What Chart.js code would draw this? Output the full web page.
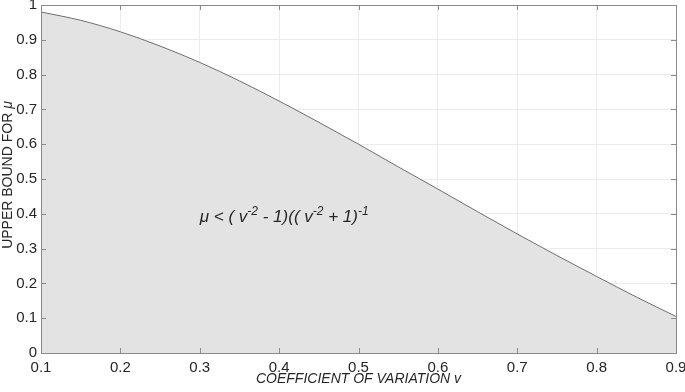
<!DOCTYPE html>
<html lang="en">
<head>
<meta charset="UTF-8">
<title>Upper bound for mu</title>
<script src="https://cdn.jsdelivr.net/npm/chart.js"></script>
<style>
  body { margin: 0; background: #fff; }
</style>
</head>
<body>
<canvas id="myChart" width="685" height="392"></canvas>
<script>
// values
const cvValues = [0.1, 0.15, 0.2, 0.25, 0.3, 0.35, 0.4, 0.45, 0.5, 0.55, 0.6, 0.65, 0.7, 0.75, 0.8, 0.85, 0.9];
const upperBound = [0.980, 0.956, 0.923, 0.882, 0.835, 0.782, 0.724, 0.663, 0.600, 0.535, 0.471, 0.406, 0.342, 0.280, 0.220, 0.161, 0.105];
const xTicks = [0.1, 0.2, 0.3, 0.4, 0.5, 0.6, 0.7, 0.8, 0.9];
const yTicks = [0, 0.1, 0.2, 0.3, 0.4, 0.5, 0.6, 0.7, 0.8, 0.9, 1];

const fontFamily = '"Liberation Sans", Arial, sans-serif';
const textColor = '#262626';

function fmt(v) { return String(Math.round(v * 10) / 10); }

// draws a run of [text, isSuperscript] pieces starting at x
function drawRich(ctx, parts, x, y, size, style) {
    parts.forEach(([t, sup]) => {
        ctx.font = style + (sup ? Math.round(size * 0.7) : size) + 'px ' + fontFamily;
        ctx.fillText(t, x, sup ? y - size * 0.45 : y);
        x += ctx.measureText(t).width;
    });
    return x;
}

// box, inward tick marks, axis titles and the formula label
const boxPlugin = {
    id: 'box',
    afterDatasetsDraw(chart) {
        const ctx = chart.ctx;
        const a = chart.chartArea;
        const xs = chart.scales.x, ys = chart.scales.y;
        const len = 5;
        ctx.save();
        ctx.strokeStyle = '#8a8a8a';
        ctx.lineWidth = 1;
        ctx.beginPath();
        xTicks.forEach(v => {
            const px = Math.round(xs.getPixelForValue(v)) + 0.5;
            ctx.moveTo(px, a.bottom); ctx.lineTo(px, a.bottom - len);
            ctx.moveTo(px, a.top); ctx.lineTo(px, a.top + len);
        });
        yTicks.forEach(v => {
            const py = Math.round(ys.getPixelForValue(v)) + 0.5;
            ctx.moveTo(a.left, py); ctx.lineTo(a.left + len, py);
            ctx.moveTo(a.right, py); ctx.lineTo(a.right - len, py);
        });
        ctx.stroke();
        ctx.strokeRect(Math.round(a.left) + 0.5, Math.round(a.top) + 0.5,
            Math.round(a.right - a.left), Math.round(a.bottom - a.top));

        ctx.fillStyle = textColor;
        ctx.textBaseline = 'alphabetic';
        ctx.textAlign = 'left';

        // formula
        drawRich(ctx, [
            ['\u03BC < ( v', 0], ['-2', 1], [' - 1)(( v', 0], ['-2', 1], [' + 1)', 0], ['-1', 1]
        ], xs.getPixelForValue(0.3), ys.getPixelForValue(0.376), 17, 'italic ');

        // x title
        ctx.font = 'italic 14px ' + fontFamily;
        ctx.textAlign = 'center';
        ctx.fillText('COEFFICIENT OF VARIATION v', (a.left + a.right) / 2, a.bottom + 30);

        // y title, mu in italics
        ctx.translate(12, (a.top + a.bottom) / 2 - 4);
        ctx.rotate(-Math.PI / 2);
        ctx.textAlign = 'left';
        ctx.font = '14px ' + fontFamily;
        const w1 = ctx.measureText('UPPER BOUND FOR ').width;
        ctx.font = 'italic 14px ' + fontFamily;
        const w2 = ctx.measureText('\u03BC').width;
        const x0 = -(w1 + w2) / 2;
        ctx.font = '14px ' + fontFamily;
        ctx.fillText('UPPER BOUND FOR ', x0, 0);
        ctx.font = 'italic 14px ' + fontFamily;
        ctx.fillText('\u03BC', x0 + w1, 0);
        ctx.restore();
    }
};

new Chart(document.getElementById('myChart'), {
    type: 'line',
    data: {
        labels: cvValues,
        datasets: [{
            data: cvValues.map((v, i) => ({ x: v, y: upperBound[i] })),
            borderColor: '#6e6e6e',
            borderWidth: 1,
            backgroundColor: '#e3e3e3',
            fill: 'origin',
            pointRadius: 0,
            tension: 0.4,
            cubicInterpolationMode: 'monotone'
        }]
    },
    options: {
        responsive: false,
        animation: false,
        layout: { padding: { top: 5, right: 9, left: 0, bottom: 0 } },
        plugins: { legend: { display: false }, tooltip: { enabled: false } },
        scales: {
            x: {
                type: 'linear',
                min: 0.1, max: 0.9,
                afterBuildTicks: s => { s.ticks = xTicks.map(v => ({ value: v })); },
                afterFit: s => { s.height = 39; s.paddingLeft = 0; s.paddingRight = 0; },
                grid: { color: '#ececec', drawTicks: false },
                border: { display: false },
                ticks: { color: textColor, font: { family: fontFamily, size: 15 }, padding: 6, maxRotation: 0, callback: fmt }
            },
            y: {
                min: 0, max: 1,
                afterBuildTicks: s => { s.ticks = yTicks.map(v => ({ value: v })); },
                afterFit: s => { s.width = 41; s.paddingTop = 0; s.paddingBottom = 0; },
                grid: { color: '#ececec', drawTicks: false },
                border: { display: false },
                ticks: { color: textColor, font: { family: fontFamily, size: 15 }, padding: 4, callback: fmt }
            }
        }
    },
    plugins: [boxPlugin]
});
</script>
</body>
</html>
